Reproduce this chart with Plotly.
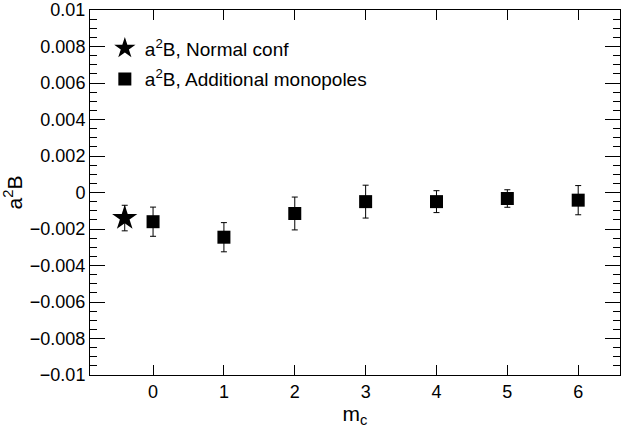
import plotly.graph_objects as go

# Data
normal_x = [-0.4]
normal_y = [-0.0014]
normal_err = [0.0007]

mono_x = [0, 1, 2, 3, 4, 5, 6]
mono_y = [-0.0016, -0.00245, -0.00115, -0.0005, -0.0005, -0.00033, -0.00042]
mono_err = [0.0008, 0.0008, 0.0009, 0.0009, 0.0006, 0.00048, 0.0008]

y_tickvals = [0.01, 0.008, 0.006, 0.004, 0.002, 0, -0.002, -0.004, -0.006, -0.008, -0.01]
y_ticktext = ["0.01", "0.008", "0.006", "0.004", "0.002", "0",
              "\u22120.002", "\u22120.004", "\u22120.006", "\u22120.008", "\u22120.01"]
x_tickvals = [0, 1, 2, 3, 4, 5, 6]

FONT = "Liberation Sans, Arial, sans-serif"

fig = go.Figure()
fig.add_trace(go.Scatter(
    x=normal_x, y=normal_y, mode="markers",
    name="a<sup>2</sup>B, Normal conf",
    marker=dict(symbol="star", size=19, color="black"),
    error_y=dict(type="data", array=normal_err, color="black", thickness=1, width=3),
    legendgroup="a",
))
fig.add_trace(go.Scatter(
    x=mono_x, y=mono_y, mode="markers",
    name="a<sup>2</sup>B, Additional monopoles",
    marker=dict(symbol="square", size=13, color="black"),
    error_y=dict(type="data", array=mono_err, color="black", thickness=1, width=3),
    legendgroup="b",
))

fig.update_layout(
    width=621, height=431,
    margin=dict(l=90, r=1, t=10, b=56),
    paper_bgcolor="white", plot_bgcolor="white",
    font=dict(family=FONT, size=18, color="black"),
    showlegend=True,
    legend=dict(x=0.028, y=0.947, xanchor="left", yanchor="top",
                bgcolor="rgba(0,0,0,0)", borderwidth=0,
                font=dict(size=19), tracegroupgap=3),
    xaxis=dict(
        range=[-0.89, 6.59], tickvals=x_tickvals,
        ticks="inside", ticklen=10, tickwidth=1, tickcolor="black",
        showline=True, linecolor="black", linewidth=1, mirror="ticks",
        showgrid=False, zeroline=False,
        title=dict(text="m<sub>c</sub>", font=dict(size=21), standoff=2),
    ),
    yaxis=dict(
        range=[-0.01, 0.01], tickvals=y_tickvals, ticktext=y_ticktext,
        ticks="inside", ticklen=15, tickwidth=1, tickcolor="black",
        showline=True, linecolor="black", linewidth=1, mirror="ticks",
        showgrid=False, zeroline=False,
        minor=dict(dtick=0.0005, ticks="inside", ticklen=7, tickcolor="black", showgrid=False),
        title=dict(text="a<sup>2</sup>B", font=dict(size=21), standoff=6),
    ),
)

fig.write_html("out.html")
